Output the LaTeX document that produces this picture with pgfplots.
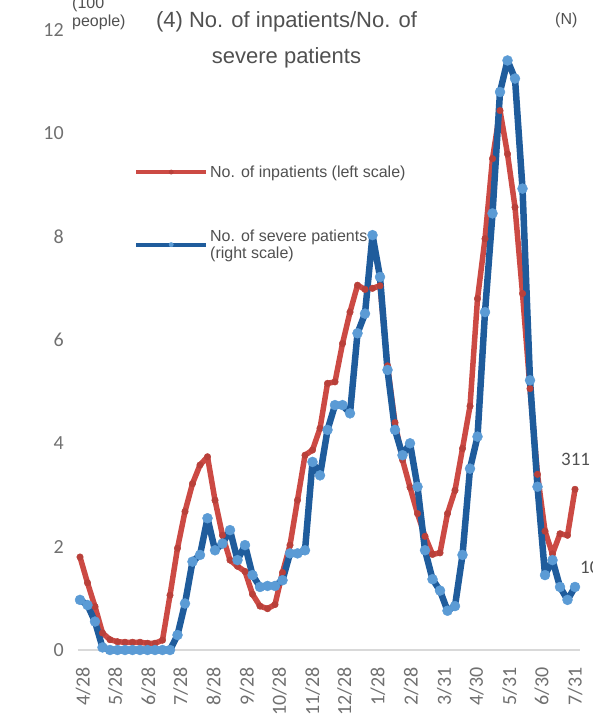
\documentclass[border=0pt]{standalone}
\usepackage{pgfplots}
\pgfplotsset{compat=1.18}
\usepackage{pgfplotstable}
\usepackage{fontspec}
\setmainfont{Liberation Sans}
\newfontfamily\calibri{Carlito}
\definecolor{redline}{HTML}{CC4A44}
\definecolor{reddot}{HTML}{B9403A}
\definecolor{blueline}{HTML}{1F5C9C}
\definecolor{bluedot}{HTML}{5B9BD5}
\definecolor{tickgray}{HTML}{707070}
\definecolor{titlegray}{HTML}{505050}
\definecolor{leggray}{HTML}{505050}
\definecolor{gridgray}{HTML}{D9D9D9}

% x = days since 4/25, weekly
\pgfplotstableread{
x y
0 1.80
7 1.30
14 0.84
21 0.33
28 0.20
35 0.16
42 0.15
49 0.15
56 0.15
63 0.13
70 0.13
77 0.19
84 1.06
91 1.97
98 2.68
105 3.22
112 3.58
119 3.74
126 2.90
133 2.22
140 1.74
147 1.62
154 1.52
161 1.08
168 0.85
175 0.80
182 0.88
189 1.50
196 2.03
203 2.90
210 3.77
217 3.87
224 4.29
231 5.16
238 5.19
245 5.93
252 6.54
259 7.06
266 6.98
273 7.00
280 7.05
287 5.50
294 4.40
301 3.68
308 3.15
315 2.64
322 2.20
329 1.85
336 1.88
343 2.64
350 3.09
357 3.90
364 4.72
371 6.80
378 7.96
385 9.51
392 10.44
399 9.60
406 8.57
413 6.90
420 5.06
427 3.40
434 2.30
441 1.86
448 2.25
455 2.22
462 3.11
}\inpatients

\pgfplotstableread{
x y
0 0.97
7 0.87
14 0.55
21 0.05
28 0.00
35 0.00
42 0.00
49 0.00
56 0.00
63 0.00
70 0.00
77 0.00
84 0.00
91 0.29
98 0.90
105 1.71
112 1.84
119 2.55
126 1.93
133 2.06
140 2.32
147 1.74
154 2.03
161 1.45
168 1.22
175 1.24
182 1.24
189 1.35
196 1.87
203 1.87
210 1.93
217 3.64
224 3.38
231 4.26
238 4.74
245 4.74
252 4.58
259 6.13
266 6.51
273 8.03
280 7.22
287 5.42
294 4.26
301 3.77
308 4.00
315 3.16
322 1.93
329 1.37
336 1.15
343 0.76
350 0.85
357 1.84
364 3.51
371 4.13
378 6.54
385 8.45
392 10.80
399 11.41
406 11.06
413 8.93
420 5.22
427 3.16
434 1.45
441 1.74
448 1.22
455 0.97
462 1.22
}\severe

\begin{document}
\begin{tikzpicture}[x=1pt,y=1pt]
\begin{axis}[
  at={(77.86pt,71pt)}, anchor=south west,
  scale only axis, width=502.5pt, height=620pt,
  xmin=-2, xmax=467, ymin=0, ymax=12,
  xtick={3,33,64,94,125,156,186,217,247,278,309,340,370,401,431,462},
  xticklabels={4/28,5/28,6/28,7/28,8/28,9/28,10/28,11/28,12/28,1/28,2/28,3/31,4/30,5/31,6/30,7/31},
  ytick={0,2,4,6,8,10,12},
  axis x line*=bottom, axis y line*=left,
  x axis line style={draw=gridgray, line width=1.2pt, -},
  y axis line style={draw=none},
  major tick style={draw=none},
  tick label style={font=\calibri\fontsize{20}{20}\selectfont, text=tickgray},
  /pgf/number format/assume math mode=true,
  xticklabel style={rotate=90, anchor=east, inner sep=0pt},
  xticklabel shift=17pt,
  yticklabel style={anchor=east, inner sep=0pt, xshift=-14pt},
  clip=false,
  legend style={at={(rel axis cs:0.1117,0.785)}, anchor=north west, draw=none, fill=none,
    inner sep=0pt, row sep=47pt, font=\fontsize{16}{17}\selectfont, text=leggray,
    cells={align=left, anchor=west}},
  legend image code/.code={\draw[mark repeat=2,mark phase=2,#1] plot coordinates {(0pt,0pt) (35pt,0pt) (70pt,0pt)};},
  legend image post style={line width=4pt, mark size=2.2pt},
]
\addplot[color=redline, line width=5.5pt, line join=round, mark=*, mark size=3.3pt,
  mark options={solid, fill=reddot, draw=reddot, line width=0.4pt}] table[x=x,y=y] {\inpatients};
\addlegendentry{No. of inpatients (left scale)}
\addplot[color=blueline, line width=6.5pt, line join=round, mark=*, mark size=5pt,
  mark options={solid, fill=bluedot, draw=bluedot, line width=0.4pt}] table[x=x,y=y] {\severe};
\addlegendentry{No. of severe patients\\(right scale)}
\end{axis}
\node[align=center, text=titlegray, font=\fontsize{22}{36}\selectfont, inner sep=0pt] at (286.5,681) {(4) No. of inpatients/No. of\\severe patients};
\node[anchor=west, inner sep=0pt, text=titlegray, font=\fontsize{16}{16}\selectfont] at (72,717) {(100};
\node[anchor=west, inner sep=0pt, text=titlegray, font=\fontsize{16}{16}\selectfont] at (72,699) {people)};
\node[anchor=west, inner sep=0pt, text=titlegray, font=\fontsize{16}{16}\selectfont] at (555,701) {(N)};
\node[anchor=west, inner sep=0pt, text=leggray, font=\calibri\fontsize{19}{19}\selectfont] at (561,262) {311};
\node[anchor=west, inner sep=0pt, text=leggray, font=\calibri\fontsize{19}{19}\selectfont] at (580,154) {108};
\pgfresetboundingbox
\useasboundingbox (0,0) rectangle (593,721);
\end{tikzpicture}
\end{document}
